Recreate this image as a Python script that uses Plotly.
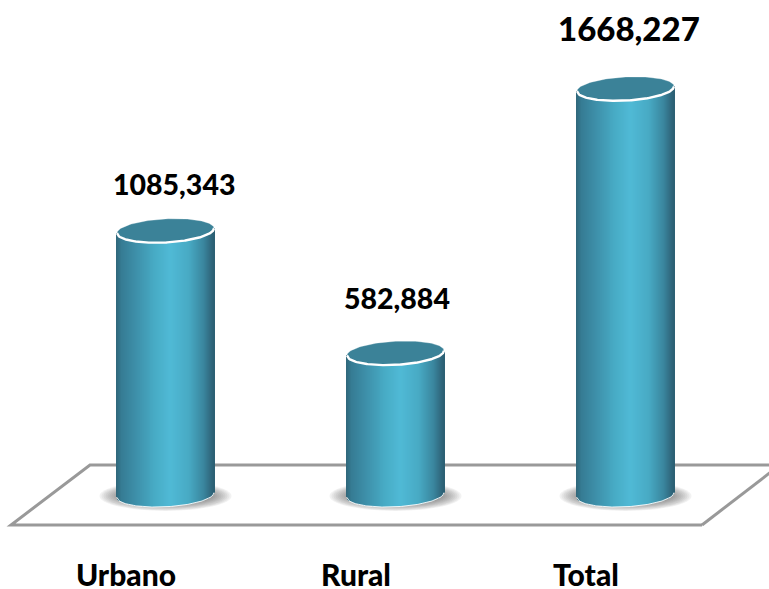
#!/usr/bin/env python3
import numpy as np
import plotly.graph_objects as go

# dados do grafico
categorias = ['Urbano', 'Rural', 'Total']
valores = [1085.343, 582.884, 1668.227]
rotulos = ['1085,343', '582,884', '1668,227']

# escala: pixels por unidade
W, H, BOTTOM = 769, 589, 34
PX_X = 230.0
PX_Y = 0.2435
X0_PX, Y0_PX = 165.5, 495.0

def dx(px):
    return px / PX_X

def dy(px):
    return px / PX_Y

# cilindro (em pixels)
RX, RY, TILT = 48.5, 11.8, 0.05
u = np.linspace(-1, 1, 99)
stops_u = [-1.0, -0.9, -0.6, -0.2, 0.12, 0.5, 0.8, 0.95, 1.0]
stops_r = [48, 54, 62, 72, 80, 72, 58, 48, 44]
stops_g = [104, 124, 144, 172, 186, 170, 134, 104, 96]
stops_b = [124, 148, 170, 198, 214, 196, 158, 126, 116]
cores = ['rgb(%d,%d,%d)' % (np.interp(t, stops_u, stops_r),
                            np.interp(t, stops_u, stops_g),
                            np.interp(t, stops_u, stops_b)) for t in u]

def arco(t, lado):
    # deslocamento vertical (px, para cima) da borda da elipse
    return lado * RY * np.sqrt(np.clip(1 - t ** 2, 0, 1)) + TILT * RX * t

fig = go.Figure()

for i, valor in enumerate(valores):
    fig.add_trace(go.Bar(
        x=i + dx(RX) * u,
        y=valor + dy(arco(u, 0)) - dy(arco(u, -1)),
        base=dy(arco(u, -1)),
        width=dx(1.3),
        marker=dict(color=cores, line=dict(width=0)),
        hoverinfo='skip',
        showlegend=False))

t = np.linspace(0, 2 * np.pi, 121)
for i, valor in enumerate(valores):
    # topo
    fig.add_trace(go.Scatter(
        x=i + dx(RX) * np.cos(t),
        y=valor + dy(RY * np.sin(t) + TILT * RX * np.cos(t)),
        mode='lines', fill='toself', fillcolor='#3b8298',
        line=dict(color='rgba(255,255,255,0.3)', width=1),
        hoverinfo='skip', showlegend=False))
    # borda branca do topo e da base
    fig.add_trace(go.Scatter(
        x=i + dx(RX) * u,
        y=valor + dy(arco(u, -1)),
        mode='lines', line=dict(color='white', width=2.4),
        hoverinfo='skip', showlegend=False))
    fig.add_trace(go.Scatter(
        x=i + dx(RX) * u,
        y=dy(arco(u, -1)),
        mode='lines', line=dict(color='rgba(255,255,255,0.9)', width=1),
        hoverinfo='skip', showlegend=False))

formas = []
# sombras desfocadas
for i in range(len(valores)):
    for k in range(12):
        rx = 66 - k * 2
        ry = 15 - k * 0.75
        formas.append(dict(
            type='circle', layer='below', xref='x', yref='y',
            x0=i - dx(rx), x1=i + dx(rx),
            y0=dy(-1 - ry), y1=dy(-1 + ry),
            fillcolor='rgba(80,80,80,0.075)', line=dict(width=0)))

# piso
def px(x):
    return x / W

def py(y):
    return 1 - y / (H - BOTTOM)

piso = 'M %f %f L %f %f L %f %f L %f %f' % (
    px(702), py(525), px(11), py(525), px(90), py(465), px(780), py(465))
formas.append(dict(type='path', layer='below', xref='paper', yref='paper',
                   path=piso, line=dict(color='#999999', width=3)))
formas.append(dict(type='line', layer='below', xref='paper', yref='paper',
                   x0=px(702), y0=py(525), x1=px(780), y1=py(465),
                   line=dict(color='#999999', width=3)))

# rotulos de valor
tamanhos = [28.5, 28.5, 33]
ajuste_x = [8, 1, 3]
ajuste_y = [47, 55, 61]
anotacoes = []
for i, valor in enumerate(valores):
    anotacoes.append(dict(
        x=i + dx(ajuste_x[i]), y=valor + dy(ajuste_y[i]),
        text=rotulos[i], showarrow=False,
        xanchor='center', yanchor='middle',
        font=dict(family='Lato', size=tamanhos[i], color='black', weight=900)))

fig.update_layout(
    width=W, height=H,
    autosize=False,
    margin=dict(l=0, r=0, t=0, b=BOTTOM, pad=0),
    paper_bgcolor='white', plot_bgcolor='rgba(0,0,0,0)',
    barmode='overlay', bargap=0,
    showlegend=False,
    shapes=formas, annotations=anotacoes,
    xaxis=dict(
        range=[-X0_PX / PX_X, (W - X0_PX) / PX_X],
        automargin=False,
        tickmode='array',
        tickvals=[i - dx(39.5) for i in range(3)],
        ticktext=categorias,
        tickfont=dict(family='Lato', size=30, color='black', weight=900),
        ticks='', showgrid=False, zeroline=False, showline=False, fixedrange=True),
    yaxis=dict(
        range=[(Y0_PX - (H - BOTTOM)) / PX_Y, Y0_PX / PX_Y],
        automargin=False,
        visible=False, showgrid=False, zeroline=False, fixedrange=True))

# tira a margem padrao do body para o grafico ocupar a janela inteira
fig.write_html("out.html", config=dict(displayModeBar=False),
               post_script="document.body.style.margin='0';document.body.style.overflow='hidden';")
